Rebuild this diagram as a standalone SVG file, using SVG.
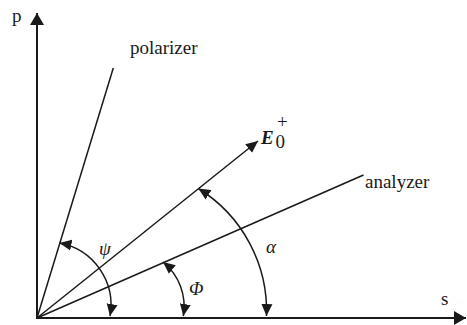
<svg xmlns="http://www.w3.org/2000/svg" width="467" height="325" viewBox="0 0 467 325">
<style>
.ax{stroke:#1a1a1a;stroke-width:2;fill:none}
.ln{stroke:#1a1a1a;stroke-width:1.5;fill:none}
.arc{stroke:#1a1a1a;stroke-width:1.5;fill:none;marker-start:url(#ah);marker-end:url(#ah)}
.t{font-family:"Liberation Serif","Times New Roman",serif;font-size:19px;fill:#1a1a1a}
.i{font-style:italic}
</style>
<defs>
<marker id="ah" markerUnits="userSpaceOnUse" markerWidth="13" markerHeight="12" refX="12" refY="5.5" orient="auto-start-reverse" viewBox="0 0 13 11">
<path d="M0,0 L12,5.5 L0,11 z" fill="#1a1a1a"/>
</marker>
<marker id="axh" markerUnits="userSpaceOnUse" markerWidth="13" markerHeight="14" refX="12" refY="7" orient="auto" viewBox="0 0 13 14">
<path d="M0,0 L12,7 L0,14 z" fill="#1a1a1a"/>
</marker>
</defs>
<g id="connectors">
<line id="p-axis" class="ax" x1="37" y1="318" x2="37" y2="13" marker-end="url(#axh)"/>
<line id="s-axis" class="ax" x1="36" y1="318" x2="466" y2="318" marker-end="url(#axh)"/>
<line id="polarizer-line" class="ln" x1="37" y1="318" x2="113.3" y2="68"/>
<line id="E0-line" class="ln" x1="37" y1="318" x2="258" y2="141" marker-end="url(#ah)"/>
<line id="analyzer-line" class="ln" x1="37" y1="318" x2="363.5" y2="175"/>
<path id="psi-arc" class="arc" d="M59.5,243 A63,63 0 0 1 110,316"/>
<path id="phi-arc" class="arc" d="M163,262 A57,57 0 0 1 183.3,316"/>
<path id="alpha-arc" class="arc" d="M198.3,188.5 A144,144 0 0 1 266.5,316"/>
</g>
<g id="label-p"><text class="t" x="12" y="22">p</text></g>
<g id="label-s"><text class="t" x="441" y="305">s</text></g>
<g id="label-polarizer"><text class="t" x="130" y="54">polarizer</text></g>
<g id="label-analyzer"><text class="t" x="365" y="188">analyzer</text></g>
<g id="label-E0"><text class="t i" x="261" y="144" font-weight="bold" font-size="15">E</text><text class="t" x="275.5" y="148" font-size="8">0</text><text class="t" x="277" y="128" font-size="7">+</text></g>
<g id="label-psi"><text class="t i" x="99" y="255">ψ</text></g>
<g id="label-phi"><text class="t i" x="189" y="295">Φ</text></g>
<g id="label-alpha"><text class="t i" x="266" y="253">α</text></g>
</svg>
